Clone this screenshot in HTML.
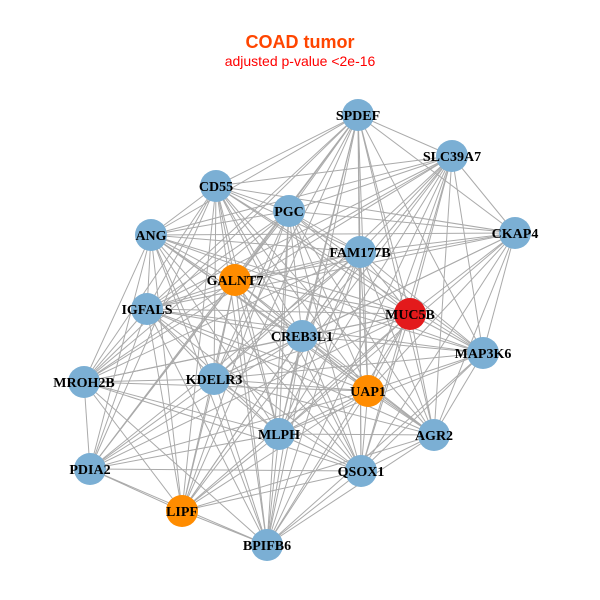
<!DOCTYPE html>
<html><head><meta charset="utf-8"><style>
body{margin:0;background:#fff;}
svg{display:block}
.l{font-family:"Liberation Serif",serif;font-weight:bold;font-size:14px;fill:#000;text-anchor:middle}
</style></head><body>
<svg id="s" width="600" height="600" xmlns="http://www.w3.org/2000/svg">
<rect width="600" height="600" fill="#fff"/>
<text x="300" y="48" font-family="Liberation Sans, sans-serif" font-weight="bold" font-size="18" fill="#ff4500" text-anchor="middle">COAD tumor</text>
<text x="300" y="66" font-family="Liberation Sans, sans-serif" font-size="14" fill="#ff0000" text-anchor="middle">adjusted p-value &lt;2e-16</text>
<g id="e" stroke="#aaaaaa" stroke-width="1"></g>
<g id="n"></g>
</svg>
<script>
var N=[["SPDEF",358,115,"#7bafd4"],["SLC39A7",452,156,"#7bafd4"],["CD55",216,186,"#7bafd4"],["PGC",289,211,"#7bafd4"],["CKAP4",515,233,"#7bafd4"],["ANG",151,235,"#7bafd4"],["FAM177B",360,252,"#7bafd4"],["GALNT7",235,280,"#ff8c00"],["MUC5B",410,314,"#e31a1c"],["IGFALS",147,309,"#7bafd4"],["CREB3L1",302,336,"#7bafd4"],["MAP3K6",483,353,"#7bafd4"],["MROH2B",84,382,"#7bafd4"],["KDELR3",214,379,"#7bafd4"],["UAP1",368,391,"#ff8c00"],["AGR2",434,435,"#7bafd4"],["MLPH",279,434,"#7bafd4"],["PDIA2",90,469,"#7bafd4"],["QSOX1",361,471,"#7bafd4"],["LIPF",182,511,"#ff8c00"],["BPIFB6",267,545,"#7bafd4"]];
var ns="http://www.w3.org/2000/svg",e=document.getElementById("e"),g=document.getElementById("n");
var skip={"PDIA2-CKAP4":1,"MROH2B-CKAP4":1,"LIPF-CKAP4":1,"PDIA2-SLC39A7":1,"BPIFB6-CKAP4":1,"MROH2B-MAP3K6":1,"PDIA2-MAP3K6":1,"MROH2B-AGR2":1,"PDIA2-AGR2":1,"LIPF-MAP3K6":1};
for(var i=0;i<N.length;i++)for(var j=i+1;j<N.length;j++){
 if(skip[N[i][0]+"-"+N[j][0]]||skip[N[j][0]+"-"+N[i][0]])continue;
 var l=document.createElementNS(ns,"line");l.setAttribute("x1",N[i][1]);l.setAttribute("y1",N[i][2]);l.setAttribute("x2",N[j][1]);l.setAttribute("y2",N[j][2]);e.appendChild(l);}
N.forEach(function(d){var c=document.createElementNS(ns,"circle");c.setAttribute("cx",d[1]);c.setAttribute("cy",d[2]);c.setAttribute("r",16);c.setAttribute("fill",d[3]);g.appendChild(c);
var t=document.createElementNS(ns,"text");t.setAttribute("x",d[1]);t.setAttribute("y",d[2]+5);t.setAttribute("class","l");t.textContent=d[0];g.appendChild(t);});
</script>
</body></html>
